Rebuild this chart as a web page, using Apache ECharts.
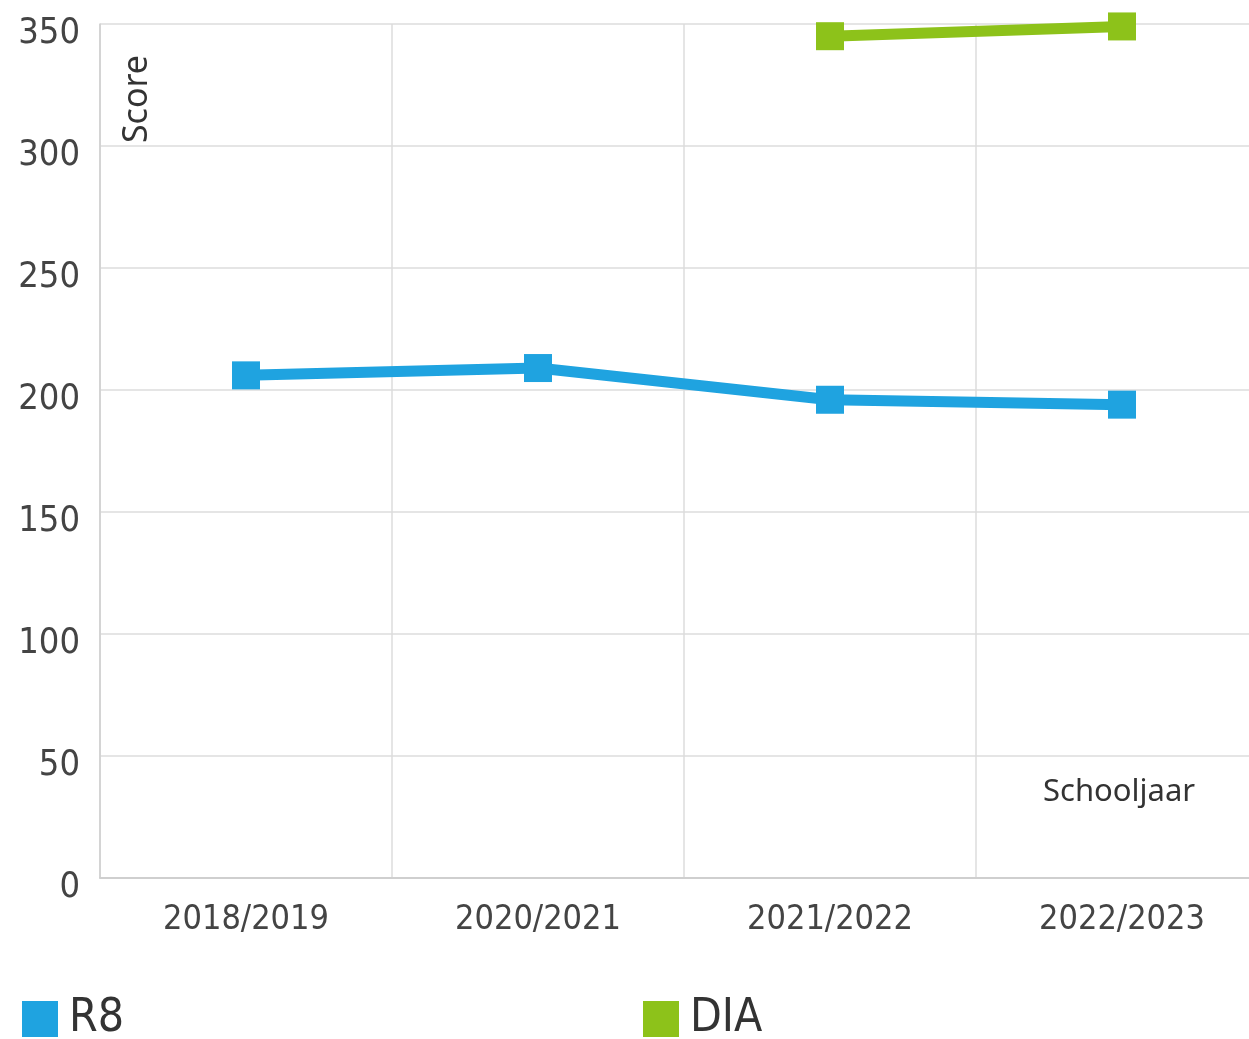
<!DOCTYPE html>
<html><head><meta charset="utf-8">
<script src="https://cdn.jsdelivr.net/npm/echarts@6/dist/echarts.min.js"></script>
<style>html,body{margin:0;padding:0;background:#fff;overflow:hidden}#c{width:1268px;height:1039px}</style>
</head><body><div id="c"></div>
<script>
var categories = ['2018/2019', '2020/2021', '2021/2022', '2022/2023'];
var r8Values = [206, 209, 196, 194];
var diaValues = [null, null, 345, 349];
var seriesNames = ['R8', 'DIA'];
var yTicks = {min: 0, max: 350, interval: 50};

var chart = echarts.init(document.getElementById('c'));
var narrow = '"DejaVu Sans"';
var cond = 'condensed';
chart.setOption({
  animation: false,
  grid: {left: 100, right: 0, top: 24, bottom: 161, containLabel: false},
  xAxis: {
    type: 'category', data: categories, boundaryGap: true,
    axisLine: {lineStyle: {color: '#cfcfcf', width: 2}},
    axisTick: {show: false},
    splitLine: {show: true, lineStyle: {color: '#dcdcdc', width: 1.5}},
    axisLabel: {color: '#444', fontFamily: narrow, fontWeight: cond, fontSize: 34, margin: 25, interval: 0}
  },
  yAxis: {
    type: 'value', min: yTicks.min, max: yTicks.max, interval: yTicks.interval,
    axisLine: {show: true, lineStyle: {color: '#cfcfcf', width: 1.5}},
    axisTick: {show: false},
    splitLine: {lineStyle: {color: '#dcdcdc', width: 1.5}},
    axisLabel: {color: '#444', fontFamily: narrow, fontWeight: cond, fontSize: 36, margin: 20,
                verticalAlign: 'top', lineHeight: 20}
  },
  legend: [
    {data: [seriesNames[0]], left: 17, top: 991, icon: 'rect', itemWidth: 36, itemHeight: 36, itemGap: 10,
     textStyle: {fontFamily: narrow, fontWeight: cond, fontSize: 46, color: '#333', padding: [0, 0, 0, 6]}},
    {data: [seriesNames[1]], left: 638, top: 991, icon: 'rect', itemWidth: 36, itemHeight: 36, itemGap: 10,
     textStyle: {fontFamily: narrow, fontWeight: cond, fontSize: 46, color: '#333', padding: [0, 0, 0, 6]}}
  ],
  graphic: [
    {type: 'text', left: 120, top: 55, rotation: Math.PI / 2,
     style: {text: 'Score', font: '34px "Noto Sans", sans-serif', fill: '#333'}},
    {type: 'text', left: 1043, top: 777,
     style: {text: 'Schooljaar', font: '31px "Noto Sans", sans-serif', fill: '#333'}}
  ],
  series: [
    {name: seriesNames[0], type: 'line', data: r8Values, symbol: 'rect', symbolSize: 28,
     itemStyle: {color: '#1fa3e0'}, lineStyle: {color: '#1fa3e0', width: 11}},
    {name: seriesNames[1], type: 'line', data: diaValues, symbol: 'rect', symbolSize: 28,
     itemStyle: {color: '#8dc21a'}, lineStyle: {color: '#8dc21a', width: 11}}
  ]
});
</script></body></html>
